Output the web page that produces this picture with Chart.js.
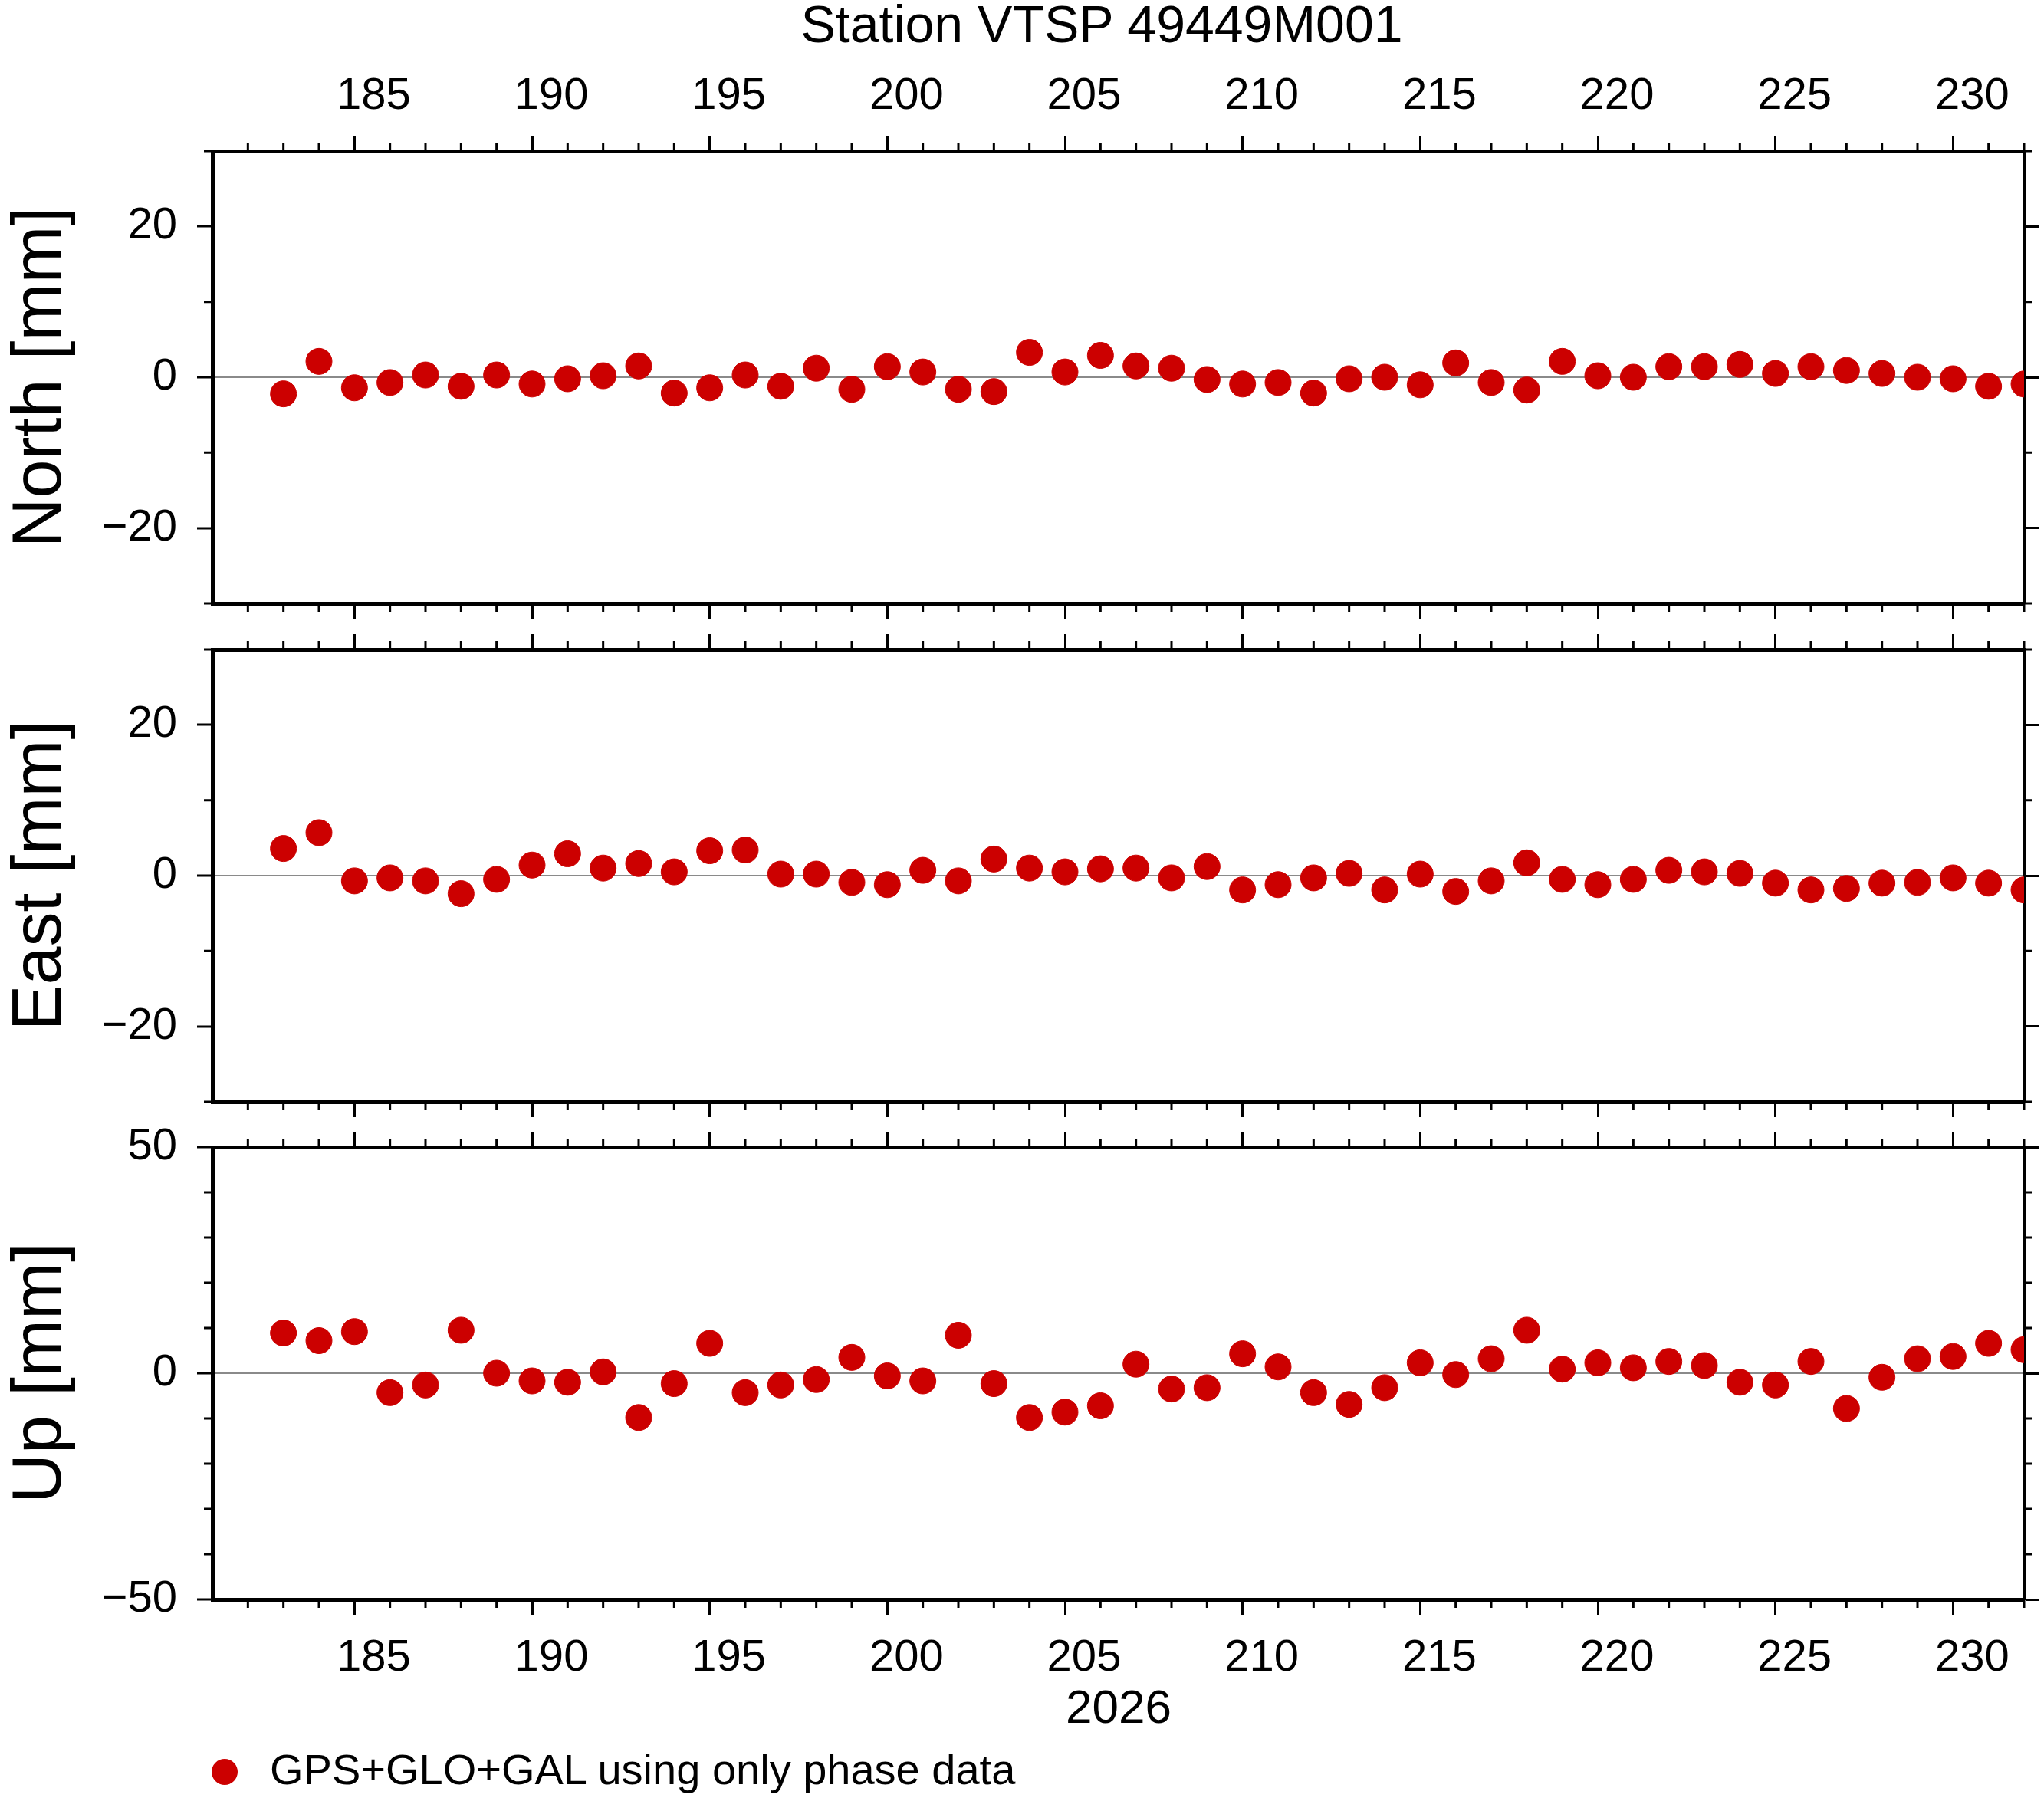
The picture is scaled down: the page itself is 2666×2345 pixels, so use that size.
<!DOCTYPE html>
<html>
<head>
<meta charset="utf-8">
<script src="https://cdn.jsdelivr.net/npm/chart.js@4"></script>
<style>
  body { margin: 0; width: 2666px; height: 2345px; background: #fff; position: relative; overflow: hidden;
         font-family: "Liberation Sans", Arial, sans-serif; }
  .panel { position: absolute; left: 0; }
  .txt { position: absolute; color: #000; white-space: nowrap; }
</style>
</head>
<body>
<div class="txt" style="left:0;width:2874px;top:-8px;text-align:center;font-size:68px;">Station VTSP 49449M001</div>
<div class="panel" style="top:77px"><canvas id="north" width="2666" height="830"></canvas></div>
<div class="panel" style="top:727px"><canvas id="east" width="2666" height="830"></canvas></div>
<div class="panel" style="top:1376px"><canvas id="up" width="2666" height="830"></canvas></div>
<div class="txt" style="left:0;width:2918px;top:2190px;text-align:center;font-size:62px;">2026</div>
<div class="txt" style="left:276px;top:2294px;width:34px;height:34px;border-radius:50%;background:#cc0000;"></div>
<div class="txt" style="left:352px;top:2275px;font-size:56px;">GPS+GLO+GAL using only phase data</div>
<script>
const days = [183,184,185,186,187,188,189,190,191,192,193,194,195,196,197,198,199,200,201,202,
  203,204,205,206,207,208,209,210,211,212,213,214,215,216,217,218,219,220,221,222,
  223,224,225,226,227,228,229,230,231,232];
const northMm = [-2.2,2.1,-1.4,-0.7,0.3,-1.2,0.3,-0.9,-0.2,0.2,1.5,-2.1,-1.4,0.3,-1.2,1.2,-1.6,1.4,0.7,-1.6,
  -1.9,3.3,0.7,2.9,1.5,1.2,-0.3,-0.9,-0.7,-2.1,-0.2,0,-1.0,1.9,-0.7,-1.7,2.1,0.2,0,1.4,
  1.4,1.7,0.5,1.4,0.9,0.5,0,-0.2,-1.2,-0.9];
const eastMm = [3.6,5.7,-0.7,-0.3,-0.7,-2.4,-0.5,1.4,2.9,1.0,1.6,0.5,3.3,3.4,0.2,0.2,-0.9,-1.2,0.7,-0.7,
  2.2,1.0,0.5,0.9,1.0,-0.3,1.2,-1.9,-1.2,-0.3,0.3,-1.9,0.2,-2.1,-0.7,1.7,-0.5,-1.2,-0.5,0.7,
  0.5,0.3,-1.0,-1.9,-1.7,-1.0,-0.9,-0.3,-1.0,-1.9];
const upMm = [8.9,7.2,9.2,-4.3,-2.6,9.5,0,-1.7,-2.0,0.3,-9.8,-2.3,6.6,-4.3,-2.6,-1.4,3.5,-0.6,-1.7,8.4,
  -2.3,-9.8,-8.6,-7.2,2.0,-3.5,-3.2,4.3,1.4,-4.3,-6.9,-3.2,2.3,-0.3,3.2,9.5,0.9,2.3,1.2,2.6,
  1.7,-2.0,-2.6,2.6,-7.8,-0.9,3.2,3.7,6.6,5.2];
const xMajorTicks = [185,190,195,200,205,210,215,220,225,230];
const northTicks = [-20,0,20], northMinor = [-30,-10,10,30];
const eastTicks = [-20,0,20], eastMinor = [-30,-10,10,30];
const upTicks = [-50,0,50], upMinor = [-40,-30,-20,-10,10,20,30,40];

const FONT = { family: '"Liberation Sans", Arial, sans-serif', size: 58 };

const minorTicks = {
  id: 'minorTicks',
  afterDraw(chart, args, opts) {
    const { ctx, chartArea: a, scales } = chart;
    ctx.save();
    ctx.strokeStyle = '#000';
    ctx.lineWidth = 3;
    ctx.beginPath();
    for (let d = 182; d <= 232; d++) {
      if (d % 5 === 0) continue;
      const px = scales.x.getPixelForValue(d);
      ctx.moveTo(px, a.top); ctx.lineTo(px, a.top - 11);
      ctx.moveTo(px, a.bottom); ctx.lineTo(px, a.bottom + 11);
    }
    opts.values.forEach(v => {
      const py = scales.y.getPixelForValue(v);
      ctx.moveTo(a.left, py); ctx.lineTo(a.left - 11, py);
      ctx.moveTo(a.right, py); ctx.lineTo(a.right + 11, py);
    });
    ctx.stroke();
    ctx.restore();
  }
};

function xAxis(position, showLabels, pad) {
  return {
    type: 'linear', position, min: 181, max: 232,
    afterBuildTicks: s => { s.ticks = xMajorTicks.map(v => ({ value: v })); },
    afterFit: s => { s.height = 120; },
    grid: { drawOnChartArea: false, tickLength: 20, tickWidth: 3, tickColor: '#000' },
    border: { display: true, color: '#000', width: 5 },
    ticks: { display: showLabels, color: '#000', font: FONT, padding: pad, labelOffset: 25, maxRotation: 0 }
  };
}

function makePanel(id, values, ymin, ymax, majors, minors, title, topLabels, bottomLabels) {
  new Chart(document.getElementById(id), {
    type: 'scatter',
    data: { datasets: [{
      data: days.map((d, i) => ({ x: d, y: values[i] })),
      backgroundColor: '#cc0000', borderColor: '#cc0000', pointRadius: 17, pointHoverRadius: 17,
      xAxisID: 'x', yAxisID: 'y'
    }] },
    plugins: [minorTicks],
    options: {
      responsive: false, animation: false, devicePixelRatio: 1,
      layout: { padding: 0 },
      plugins: { legend: { display: false }, tooltip: { enabled: false }, minorTicks: { values: minors } },
      scales: {
        x: xAxis('bottom', bottomLabels, 22),
        xt: xAxis('top', topLabels, 16),
        y: {
          type: 'linear', position: 'left', min: ymin, max: ymax,
          afterBuildTicks: s => { s.ticks = majors.map(v => ({ value: v })); },
          afterFit: s => { s.width = 277; },
          grid: { drawOnChartArea: true, tickLength: 20, tickWidth: 3,
                  tickColor: '#000', lineWidth: 2,
                  color: c => (c.tick && c.tick.value === 0 ? '#8a8a8a' : 'rgba(0,0,0,0)') },
          border: { display: true, color: '#000', width: 5 },
          ticks: { color: '#000', font: FONT, padding: 26,
                   callback: v => (v < 0 ? '\u2212' + Math.abs(v) : String(v)) },
          title: { display: true, text: title, color: '#000', padding: 0,
                   font: { family: FONT.family, size: 90 } }
        },
        y2: {
          type: 'linear', position: 'right', min: ymin, max: ymax,
          afterBuildTicks: s => { s.ticks = majors.map(v => ({ value: v })); },
          afterFit: s => { s.width = 26; },
          grid: { drawOnChartArea: false, tickLength: 20, tickWidth: 3, tickColor: '#000' },
          border: { display: true, color: '#000', width: 5 },
          ticks: { display: false }
        }
      }
    }
  });
}

makePanel('north', northMm, -30, 30, northTicks, northMinor, 'North [mm]', true, false);
makePanel('east', eastMm, -30, 30, eastTicks, eastMinor, 'East [mm]', false, false);
makePanel('up', upMm, -50, 50, upTicks, upMinor, 'Up [mm]', false, true);
</script>
</body>
</html>
